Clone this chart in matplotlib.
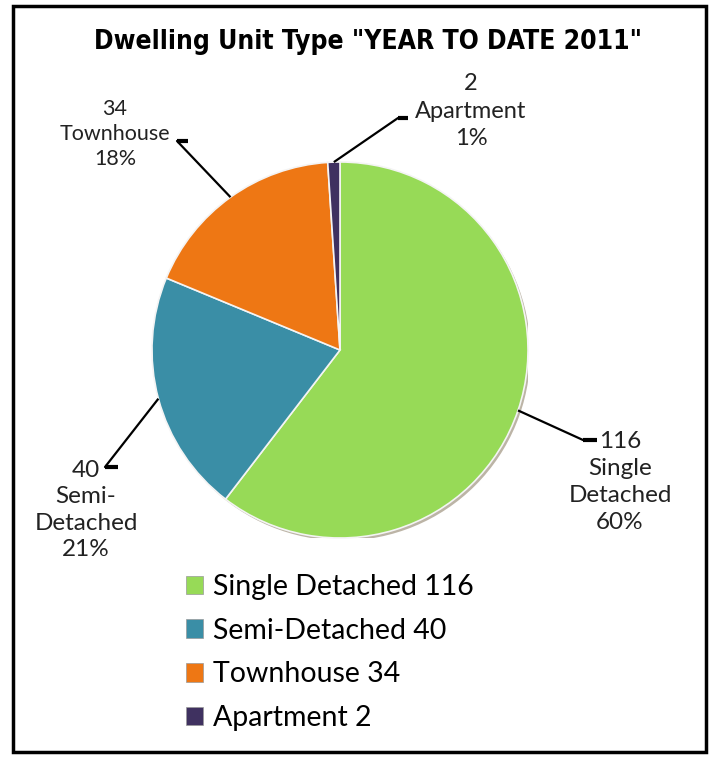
import matplotlib.pyplot as plt
from matplotlib.patches import Patch, Rectangle, Circle
import numpy as np

# data
names = ['Single Detached', 'Semi-Detached', 'Townhouse', 'Apartment']
counts = [116, 40, 34, 2]
label_names = ['Single\nDetached', 'Semi-\nDetached', 'Townhouse', 'Apartment']
colors = ['#97DA57', '#3A8EA6', '#EE7714', '#3F3160']

W, H = 714, 759
cx, cy, R = 340, 350, 188   # pie centre / radius in pixels

fig = plt.figure(figsize=(W / 100, H / 100), dpi=100)
ax = fig.add_axes([(cx - R) / W, (H - cy - R) / H, 2 * R / W, 2 * R / H])

# soft drop shadow behind the pie
ax.add_patch(Circle((0.012, -0.014), 1.0, color='#6b5a3a', alpha=0.45, lw=0, zorder=0))
wedges, _ = ax.pie(counts, colors=colors, startangle=90, counterclock=False,
                   radius=1.0, wedgeprops=dict(edgecolor='#f4f4f4', linewidth=1.2))
ax.set_xlim(-1, 1)
ax.set_ylim(-1, 1)
ax.set_aspect('equal')
ax.axis('off')

def px(x, y):
    # pixel position -> data coords of the pie axes
    return (x - cx) / R, (cy - y) / R

# label text centres and elbow / tick ends (pixels)
text_pos = [(620, 482), (86, 510), (115, 134), (471, 111)]
elbows = [(597, 440), (118, 467), (188, 141), (408, 118)]
ticks = [(583, 440), (105, 467), (177, 141), (398, 118)]
fsizes = [17.5, 17.5, 15.5, 17]
spacing = [1.35, 1.32, 1.33, 1.38]

total = sum(counts)
for w, n, c, tp, el, tk, fs, ls in zip(wedges, label_names, counts, text_pos, elbows,
                                       ticks, fsizes, spacing):
    mid = np.deg2rad((w.theta1 + w.theta2) / 2)
    ex, ey = np.cos(mid), np.sin(mid)
    kx, ky = px(*tk)
    bx, by = px(*el)
    ax.plot([ex, kx, bx], [ey, ky, by], color='black', lw=1.6, clip_on=False,
            solid_capstyle='butt')
    ax.plot([kx, bx], [ky, by], color='black', lw=3, clip_on=False, solid_capstyle='butt')
    tx, ty = px(*tp)
    pct = round(100 * c / total)
    ax.text(tx, ty, '%d\n%s\n%d%%' % (c, n, pct), ha='center', va='center',
            fontsize=fs, family=['Lato', 'DejaVu Sans'], color='#222222',
            linespacing=ls, clip_on=False)

fig.text(368 / W, 1 - 42 / H, 'Dwelling Unit Type "YEAR TO DATE 2011"',
         ha='center', va='center', fontsize=19, fontweight='bold',
         fontstretch='condensed', family='DejaVu Sans')

handles = [Patch(facecolor=col, edgecolor='#999999', linewidth=0.5) for col in colors]
labels = ['%s %d' % (n, c) for n, c in zip(names, counts)]
fig.legend(handles, labels, loc='upper left', bbox_to_anchor=(160 / W, 1 - 548 / H),
           frameon=False, handlelength=0.6, handleheight=0.6, handletextpad=0.35,
           labelspacing=0.63, prop={'family': ['Lato', 'DejaVu Sans'], 'size': 20.5})

# outer frame
fig.patches.append(Rectangle((13 / W, 1 - 752 / H), 693 / W, 746 / H, transform=fig.transFigure,
                             fill=False, edgecolor='black', linewidth=2.5))

fig.savefig('out.png', dpi=100)
